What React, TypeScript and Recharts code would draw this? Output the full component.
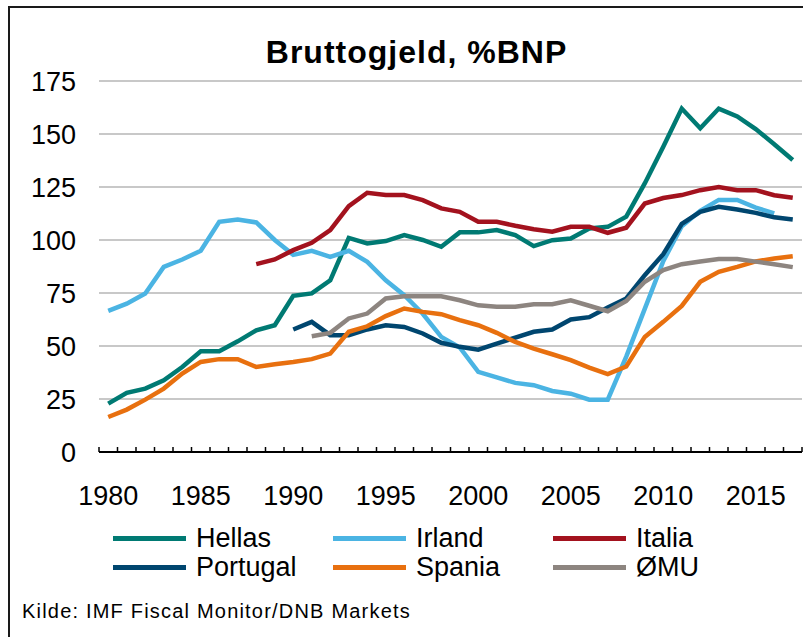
import React from 'react'
import { LineChart, Line, XAxis, YAxis, CartesianGrid } from 'recharts'

const years = [
  1980, 1981, 1982, 1983, 1984, 1985, 1986, 1987, 1988, 1989,
  1990, 1991, 1992, 1993, 1994, 1995, 1996, 1997, 1998, 1999,
  2000, 2001, 2002, 2003, 2004, 2005, 2006, 2007, 2008, 2009,
  2010, 2011, 2012, 2013, 2014, 2015, 2016, 2017,
]

const hellas = [
  22.8, 27.9, 29.9, 33.8, 40.1, 47.5, 47.5, 52.2, 57.4, 59.8,
  73.7, 74.8, 81, 101, 98.4, 99.5, 102.3, 100, 96.8, 103.6,
  103.6, 104.7, 102.3, 97.1, 99.9, 100.7, 105.4, 106.2, 111, 126.7,
  144, 162, 152.7, 162, 158.3, 152.3, 145.2, 137.7,
]

const irland = [
  66.6, 70, 74.8, 87.3, 90.8, 94.9, 108.6, 109.7, 108.3, 100,
  93, 94.9, 92, 94.9, 89.7, 81, 74, 65.2, 54.3, 49.3,
  37.8, 35.2, 32.6, 31.5, 28.8, 27.5, 24.7, 24.7, 45, 67.5,
  90, 106.5, 113.8, 118.9, 118.9, 115.3, 112.6, null,
]

const italia = [
  null, null, null, null, null, null, null, null, 88.6, 90.8,
  95.2, 98.7, 104.7, 116, 122.3, 121.2, 121.2, 118.8, 114.9, 113.3,
  108.6, 108.6, 106.7, 105.1, 103.9, 106.2, 106.2, 103.4, 105.8, 117.2,
  119.8, 121.2, 123.5, 125, 123.5, 123.5, 121.1, 119.9,
]

const portugal = [
  null, null, null, null, null, null, null, null, null, null,
  57.8, 61.4, 55.1, 55.1, 57.8, 59.8, 59, 55.9, 51.5, 49.6,
  48.3, 51.1, 54, 56.7, 57.8, 62.5, 63.6, 68.2, 72.4, 83.4,
  93.3, 107.6, 113.3, 115.7, 114.4, 112.8, 110.7, 109.7,
]

const spania = [
  16.5, 20, 24.7, 29.9, 37, 42.5, 43.8, 43.8, 40.1, 41.4,
  42.5, 43.8, 46.4, 56.7, 59.3, 64.1, 67.7, 66.1, 65, 62.2,
  59.8, 56.2, 51.9, 48.8, 46.1, 43.3, 39.8, 36.7, 40.3, 54.3,
  61.4, 68.9, 80.3, 85, 87.3, 89.9, 91.3, 92.3,
]

const omu = [
  null, null, null, null, null, null, null, null, null, null,
  null, 54.6, 56.2, 63, 65.3, 72.4, 73.5, 73.5, 73.5, 71.6,
  69.2, 68.5, 68.5, 69.7, 69.7, 71.5, 69, 66.4, 71.2, 80.3,
  85.8, 88.6, 89.9, 91, 91, 89.8, 88.6, 87.2,
]

const yTicks = [0, 25, 50, 75, 100, 125, 150, 175]

const series = [
  { key: 'hellas', name: 'Hellas', color: '#007A73', values: hellas },
  { key: 'irland', name: 'Irland', color: '#4BB4E3', values: irland },
  { key: 'italia', name: 'Italia', color: '#A3121E', values: italia },
  { key: 'portugal', name: 'Portugal', color: '#00466F', values: portugal },
  { key: 'spania', name: 'Spania', color: '#E8700F', values: spania },
  { key: 'omu', name: 'ØMU', color: '#8D8580', values: omu },
]

const data = years.map((year, i) => {
  const row: Record<string, number | null> = { year }
  series.forEach((s) => {
    row[s.key] = s.values[i]
  })
  return row
})

// tick marks sit between the years, like an Excel category axis
const tickMarks = [...years.map((y) => y - 0.5), years[years.length - 1] + 0.5]

const FONT = '"Liberation Sans", Arial, sans-serif'
const W = 803
const H = 637
const Y_AXIS_W = 99
const RIGHT = 1
const HALF_YEAR = (W - Y_AXIS_W - RIGHT) / years.length / 2

// eslint-disable-next-line @typescript-eslint/no-explicit-any
function YearTick({ x, y, payload }: any) {
  const year = payload.value + 0.5
  if (year % 5 !== 0 || year > years[years.length - 1]) return <g />
  return (
    <text
      x={x + HALF_YEAR}
      y={y}
      textAnchor="middle"
      fontSize={27}
      fontFamily={FONT}
      fill="#000"
    >
      {year}
    </text>
  )
}

export default function App() {
  return (
    <div
      style={{
        position: 'absolute',
        left: 0,
        top: 0,
        width: W,
        height: H,
        overflow: 'hidden',
        background: '#fff',
        fontFamily: FONT,
      }}
    >
      <div
        style={{
          position: 'absolute',
          left: 8,
          top: 6,
          width: W + 20,
          height: H + 20,
          border: '2px solid #1a1a1a',
          boxSizing: 'border-box',
        }}
      />
      <div
        style={{
          position: 'absolute',
          left: 0,
          width: 833,
          top: 36,
          textAlign: 'center',
          fontSize: 32,
          fontWeight: 'bold',
          lineHeight: '32px',
          letterSpacing: 1,
        }}
      >
        Bruttogjeld, %BNP
      </div>
      <div style={{ position: 'absolute', left: 0, top: 0 }}>
        <LineChart
          width={W}
          height={H}
          data={data}
          margin={{ top: 81, right: RIGHT, left: 0, bottom: 125 }}
        >
          <CartesianGrid vertical={false} stroke="#c8c8c8" strokeWidth={2} />
          <XAxis
            dataKey="year"
            type="number"
            domain={[tickMarks[0], tickMarks[tickMarks.length - 1]]}
            ticks={tickMarks}
            interval={0}
            height={60}
            tickSize={-5}
            tickMargin={58}
            tick={<YearTick />}
            axisLine={{ stroke: '#000', strokeWidth: 2 }}
            tickLine={{ stroke: '#000', strokeWidth: 1.5 }}
          />
          <YAxis
            domain={[0, 175]}
            ticks={yTicks}
            width={Y_AXIS_W}
            axisLine={false}
            tickLine={false}
            tickSize={0}
            tickMargin={23}
            tick={{ fill: '#000', fontSize: 27, fontFamily: FONT }}
          />
          {series.map((s) => (
            <Line
              key={s.key}
              type="linear"
              dataKey={s.key}
              name={s.name}
              stroke={s.color}
              strokeWidth={4.5}
              dot={false}
              isAnimationActive={false}
            />
          ))}
        </LineChart>
      </div>
      {series.map((s, i) => (
        <div
          key={s.key}
          style={{
            position: 'absolute',
            left: 113 + (i % 3) * 220,
            top: 525 + Math.floor(i / 3) * 28.5,
            display: 'flex',
            alignItems: 'center',
            fontSize: 27,
            lineHeight: '27px',
          }}
        >
          <span
            style={{
              display: 'inline-block',
              width: 73,
              height: 5,
              background: s.color,
              marginRight: 10,
            }}
          />
          {s.name}
        </div>
      ))}
      <div
        style={{
          position: 'absolute',
          left: 22,
          top: 601,
          fontSize: 20,
          lineHeight: '20px',
          letterSpacing: 1.2,
        }}
      >
        Kilde: IMF Fiscal Monitor/DNB Markets
      </div>
    </div>
  )
}
